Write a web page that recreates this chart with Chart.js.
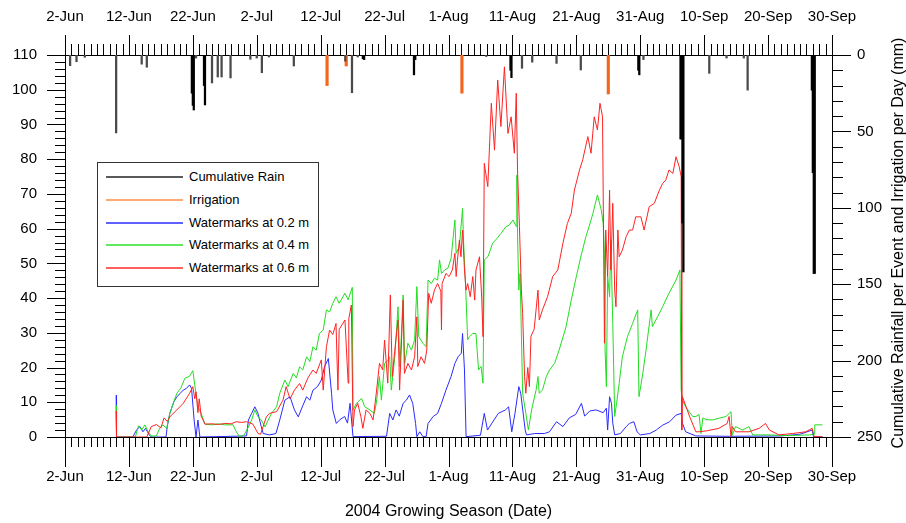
<!DOCTYPE html>
<html><head><meta charset="utf-8">
<script src="https://cdn.jsdelivr.net/npm/chart.js@4.4.1/dist/chart.umd.min.js"></script>
<style>
html,body{margin:0;padding:0;background:#fff;}
#wrap{position:relative;width:906px;height:523px;font-family:"Liberation Sans",Arial,Helvetica,sans-serif;color:#000;}
#c{position:absolute;left:0;top:0;}
#legend{position:absolute;left:97px;top:162px;width:222px;height:125px;border:1px solid #333;background:#fff;box-sizing:border-box;}
#legend .ln{position:absolute;left:8px;width:77px;height:2px;}
#legend .tx{position:absolute;left:91px;font-size:13px;line-height:16px;white-space:nowrap;}
#ytitle2{position:absolute;left:648px;top:233px;width:500px;height:20px;line-height:20px;text-align:center;font-size:16px;transform:rotate(-90deg);transform-origin:50% 50%;white-space:nowrap;}
</style></head>
<body>
<div id="wrap">
<canvas id="c" width="906" height="523"></canvas>
<div id="legend"></div>
<div id="ytitle2"></div>
</div>
<script>
// ---- axis text ----
const dateLabels = ['2-Jun','12-Jun','22-Jun','2-Jul','12-Jul','22-Jul','1-Aug','11-Aug','21-Aug','31-Aug','10-Sep','20-Sep','30-Sep'];
const xTitle = '2004 Growing Season (Date)';
const yRightTitle = 'Cumulative Rainfall per Event and Irrigation per Day (mm)';
const seriesNames = ['Cumulative Rain','Irrigation','Watermarks at 0.2 m','Watermarks at 0.4 m','Watermarks at 0.6 m'];
const leftTicks = {min:0, max:110, step:10, minor:2};
const rightTicks = {min:0, max:250, step:50, minor:10};
const dayRange = {min:0, max:120, step:10, minor:1};

// ---- rain events (day since 2-Jun, mm) ----
const rainDays = [0.8,1.8,3.1,8.0,12.0,12.8,19.85,20.0,20.15,20.5,21.75,21.9,23.0,23.9,24.5,25.9,29.0,30.0,30.8,31.9,35.8,43.85,44.9,45.8,46.6,46.8,54.6,54.8,65.9,69.7,69.85,71.5,73.1,76.9,80.7,89.7,89.85,90.5,96.3,96.45,96.6,96.75,100.8,103.5,106.2,106.8,116.85,117.0,117.15,117.3];
const rainMm   = [7,4.4,1.5,51,6,8,25,33,36,2,20,32.7,18.3,14.4,14.4,15,2.8,2,11.6,1.3,7.2,4,24.7,1.3,2.5,3,13,3,1,10,14.8,8.7,4.7,5.5,9.8,10,13,3,55,55,110,142,12,2,2,23,23,77,143,143];

// ---- irrigation (day, mm) ----
const irrDays = [41.0,44.0,62.1,85.0];
const irrMm   = [20,7.2,25,25.5];

// ---- watermark readings [day, value] ----
const wm02 = [[8.0,12],[8.06,0],[10.6,0],[11.2,2],[11.7,3],[12.2,1.5],[12.6,2.5],[13.2,0.5],[13.6,0],[15.8,0],[16.0,3],[16.4,6.8],[17.0,10],[17.5,11.6],[18.0,12.5],[18.5,13.5],[19.0,14],[19.5,15],[19.8,14],[20.2,4.9],[20.5,0],[20.8,4.9],[21.1,0],[28.4,0.3],[28.7,4.9],[29.2,6.8],[29.7,8.7],[30.2,6.8],[30.7,3],[31.0,1],[32.0,0.6],[33.0,1],[33.6,4.9],[34.4,10.6],[35.2,11.6],[35.9,7.8],[36.5,5.8],[37.2,9],[37.8,11.6],[38.3,10.6],[38.8,13.5],[39.5,14.5],[40.1,16.4],[40.6,20.2],[41.2,22.6],[41.7,12.6],[41.9,7.8],[42.45,3.9],[43.0,5],[43.75,5.9],[44.2,4],[44.6,9.7],[45.06,0.1],[50.3,0.2],[50.8,6.8],[51.3,4.9],[51.8,7.8],[52.3,6],[52.9,9.7],[53.4,10.6],[53.9,12.1],[54.4,9.7],[54.85,3.9],[55.05,0.1],[55.5,1.5],[56.0,0.1],[56.5,0.1],[56.8,3.9],[57.6,5.9],[58.3,6.8],[58.9,9.7],[59.6,13.5],[60.4,17.4],[61.0,21.2],[61.5,23.1],[62.0,24.1],[62.2,29.8],[62.5,19.3],[62.75,0.1],[65.0,0.5],[65.6,6.8],[66.1,2],[66.8,4],[67.8,6.8],[68.9,7.8],[69.4,8.7],[69.9,1.5],[70.4,6.8],[71.0,14.5],[71.3,12.6],[72.0,2],[72.2,0.6],[73.5,1],[75.0,1],[75.8,1.5],[76.9,4.4],[77.9,3],[78.9,5.5],[79.9,6.5],[80.8,9.7],[81.3,6],[82.1,7.5],[83.1,7.8],[84.2,7],[84.7,8.3],[84.9,2],[85.2,11.6],[85.5,9.7],[85.7,4],[86.0,0.6],[86.9,1],[87.8,3],[88.3,3.9],[89.0,4.4],[89.5,1.5],[90.0,0.6],[91.5,1],[92.5,2],[93.5,3.4],[94.6,4.4],[95.6,6.3],[96.4,6.8],[96.6,4],[97.1,1.5],[98.7,0.3],[104,0.2],[112,0.3],[115,0.8],[116.9,2],[117.1,0.1],[118.5,0]];

const wm04 = [[8.0,9],[8.06,0],[11.0,0],[11.5,3.2],[12.0,2],[12.5,3.5],[13.0,1.5],[13.5,0.3],[14.3,0.3],[14.8,2.5],[15.3,3.5],[15.9,2.5],[16.4,6.8],[17.0,10],[17.5,12.6],[18.1,14],[18.75,16.9],[19.5,17.5],[20.0,19.1],[20.3,15],[20.8,8.7],[21.3,6.8],[21.9,3.7],[23,3.5],[24,3.8],[25,3.5],[26.3,3.5],[26.8,1.5],[27.3,0.1],[28.0,0.5],[28.7,2.9],[29.2,4.9],[29.7,7.8],[30.2,5.8],[30.7,4.9],[31.3,2.9],[31.8,4.9],[32.3,6.8],[33.1,8.7],[33.6,12.6],[34.4,16.4],[34.9,14.5],[35.7,18.3],[36.2,17],[36.7,20.2],[37.2,19.3],[37.8,23.1],[38.3,21.7],[38.8,26],[39.3,25],[39.8,29.8],[40.4,30.8],[40.9,36.6],[41.4,36],[41.9,38.5],[42.4,40.4],[42.9,38.5],[43.8,41.4],[44.3,39.5],[44.95,43.1],[45.06,7.8],[45.6,9.7],[46.4,11.1],[46.9,8.7],[47.7,7.8],[48.4,6.8],[48.7,9.7],[49.2,17.4],[49.5,10.6],[50.0,21.2],[50.5,22],[50.8,23.1],[51.05,13.5],[51.6,23.1],[52.1,37.5],[52.4,20.2],[52.9,40.9],[53.15,21.2],[53.65,27],[54.2,25],[54.7,28],[55.05,43.3],[55.35,28.9],[56.0,27],[56.5,26],[56.8,45.2],[57.3,44.2],[57.8,45.7],[58.3,45.2],[58.6,51],[58.9,47.1],[59.4,48.1],[59.9,48.6],[60.4,51.4],[61.0,62.5],[61.2,52.9],[61.7,54.8],[62.2,65.8],[62.35,56.7],[62.7,42.3],[63.0,28],[63.3,28.9],[63.8,29.8],[64.3,29.8],[64.7,19.3],[65.1,20.3],[65.4,15.5],[65.6,51],[66.2,52],[66.9,55.8],[67.5,57],[68.2,58.6],[69.0,60.6],[69.5,61],[70.1,62.5],[70.6,60.6],[70.7,75.4],[70.8,58.6],[71.0,42.3],[71.2,47.1],[71.6,12.6],[72.1,6.8],[72.5,2],[73.0,7.8],[73.7,13.5],[74.0,17.4],[74.2,12.6],[74.7,13.5],[75.3,17.4],[75.8,19.3],[76.6,21.2],[77.3,25],[78.4,31.8],[79.2,39.4],[80.0,46.2],[80.7,51.9],[81.5,57.7],[82.0,60.6],[82.6,64.4],[83.3,69.7],[83.9,65.4],[84.2,61.5],[84.4,52.9],[84.5,25],[84.7,14.5],[84.9,46.2],[85.2,40.4],[85.4,56.7],[85.7,32.7],[86.0,5.9],[86.3,9.7],[86.7,15.4],[87.2,23.1],[88.0,28.9],[88.8,32.7],[89.6,36.6],[89.8,11.6],[90.4,18.3],[90.9,25],[91.7,36.6],[91.9,31.8],[92.7,34.6],[93.5,37.5],[94.5,41.4],[95.6,45.2],[96.2,48.1],[96.4,13.5],[96.6,10.6],[97.1,8.7],[98.2,5.9],[98.7,5.9],[99.2,6.5],[99.5,1],[99.8,5.5],[100.3,5],[101.3,4.9],[102.3,5.4],[103.4,5.9],[104.2,7.3],[104.4,0.5],[104.9,3],[106,2],[107,3],[107.6,0.6],[110,0.6],[113,0.4],[116.5,0.6],[117.2,0.8],[117.3,3.5],[118.5,3.5]];

const wm06 = [[8.0,7.4],[8.06,0],[12.8,0],[13.5,3],[14.3,3.6],[15.0,2.6],[15.5,5.5],[16.0,4.5],[16.4,5.8],[17.5,7.8],[18.5,9.7],[19.5,12.6],[20.0,14.5],[20.3,11],[20.5,13],[20.8,7],[21.0,11],[21.3,6],[21.6,4.9],[21.9,3.7],[23,3.8],[24,3.6],[25,3.9],[26,3.8],[26.8,4.4],[27.6,4.2],[28.4,4.4],[29.4,3.7],[30.2,1],[30.6,0.8],[31.5,5.8],[32.0,6.8],[33.1,7.3],[34.1,10.6],[34.6,14.5],[35.2,11],[35.9,13.5],[36.7,15.4],[37.2,13.5],[38.0,17],[38.8,19.3],[39.3,18.3],[40.1,22.2],[40.4,13.5],[40.9,26],[41.4,30.8],[41.9,29.5],[42.4,32.7],[42.7,13.5],[42.9,31],[43.8,33.7],[44.3,15.5],[44.4,34],[44.8,38],[45.06,3],[45.3,7.8],[45.8,9.7],[46.3,5.8],[46.6,2.5],[47.1,7.8],[47.7,6.8],[48.2,4.9],[48.7,12.6],[49.2,21.2],[49.7,19.3],[50.0,27.9],[50.5,15.5],[50.9,40.9],[51.2,17.4],[51.6,25],[52.1,33.7],[52.35,13.5],[52.9,39.4],[53.1,18.3],[53.65,21.2],[54.2,19.3],[54.7,23.1],[55.05,34.6],[55.2,20.3],[55.7,23.1],[56.25,21.2],[56.6,25],[56.9,41.4],[57.3,38.5],[57.8,42.3],[58.3,44.2],[58.8,42],[58.9,30.8],[59.0,44.2],[59.6,47.1],[60.1,46.2],[60.6,48.1],[61.0,52.9],[61.2,46.2],[61.4,50.9],[61.7,56.7],[61.95,51.9],[62.2,59.6],[62.5,48.1],[62.75,42.3],[63.0,44.2],[63.4,40.4],[63.8,46.2],[64.1,39.4],[64.3,48.1],[64.85,51.9],[65.2,40],[65.4,28.9],[65.6,78.8],[66.15,72.1],[66.7,96.1],[67.2,82.6],[67.7,102.8],[68.2,89.4],[68.75,106.6],[69.3,87.4],[69.8,92.2],[70.3,81.7],[70.6,99],[70.8,76.9],[71.1,60.6],[71.4,42.3],[71.6,35.6],[71.9,17.4],[72.1,12.6],[72.4,20],[72.66,14.5],[72.9,29],[73.4,31],[74.0,42.3],[74.2,33.7],[74.7,36.6],[75.5,40.4],[76.3,46.2],[77.1,48.1],[77.9,55.8],[78.6,61.5],[79.2,64.4],[79.7,71.1],[80.5,76.9],[81.0,79.8],[81.8,86.5],[82.3,81.7],[82.8,92.2],[83.3,88.4],[83.7,96.1],[84.1,92.2],[84.4,27],[84.6,59.6],[84.9,46.2],[85.2,71.1],[85.4,48.1],[85.7,67.3],[86.0,42.3],[86.2,37.5],[86.5,59.6],[86.7,51.9],[87.2,53.8],[87.8,57.7],[88.3,59.6],[88.8,59.6],[89.3,63.4],[90.1,63.4],[90.6,59.6],[91.4,66.3],[92.2,67.3],[93.0,71.1],[93.5,73],[94.0,74],[94.5,76.9],[95.1,75.9],[95.6,80.7],[96.1,77.8],[96.4,75],[96.5,2],[96.6,11.6],[97.7,6],[98.7,1.5],[99.2,1.5],[100.5,1.8],[102.3,2.5],[103.6,3.9],[103.9,5.9],[104.2,0.1],[104.4,3],[104.9,1.5],[107,1.5],[108.6,2.5],[109.6,3.9],[110.2,2],[111.7,0.6],[113.8,1],[115.9,1.5],[116.9,2.5],[117.2,0.1],[118.5,0.1]];

// ---- styles ----
const colors = {rain:'#000000', rainThin:'#4a4a4a', irr:'#f4661b', b:'#2a2aff', g:'#22dd22', r:'#ff2222'};
const legendColors = ['#5a5a5a','#ffa878','#6060ff','#60e860','#ff6060'];

const pts = arr => arr.map(p => ({x:p[0], y:p[1]}));
const bars = (d, v) => d.map((x,i) => ({x:x, y:v[i]}));
const rainColor = c => {
  const i = c.dataIndex, d = rainDays[i];
  const clustered = rainDays.some((o,j) => j !== i && Math.abs(o - d) < 0.2);
  return clustered ? colors.rain : colors.rainThin;
};

Chart.defaults.font.family = '"Liberation Sans", Arial, Helvetica, sans-serif';
Chart.defaults.font.size = 15;
Chart.defaults.color = '#000';

const tickMarks = {
  id:'tickMarks',
  afterDraw(chart){
    const {ctx, chartArea:a, scales} = chart;
    ctx.save();
    ctx.strokeStyle = '#000'; ctx.lineWidth = 1;
    ctx.beginPath();
    for (let d = dayRange.min; d <= dayRange.max; d += dayRange.minor){
      const major = d % dayRange.step === 0;
      const px = Math.round(scales.x.getPixelForValue(d)) + 0.5;
      ctx.moveTo(px, a.bottom); ctx.lineTo(px, a.bottom + (major ? 30 : 10));
      const pt = Math.round(scales.x2.getPixelForValue(d)) + 0.5;
      ctx.moveTo(pt, a.top); ctx.lineTo(pt, a.top - (major ? 20 : 11));
    }
    for (let v = leftTicks.min; v <= leftTicks.max; v += leftTicks.minor){
      const py = Math.round(scales.y.getPixelForValue(v)) + 0.5;
      const major = v % leftTicks.step === 0;
      ctx.moveTo(a.left, py); ctx.lineTo(a.left - (major ? 18 : 10), py);
    }
    for (let v = rightTicks.min; v <= rightTicks.max; v += rightTicks.minor){
      const py = Math.round(scales.y2.getPixelForValue(v)) + 0.5;
      const major = v % rightTicks.step === 0;
      ctx.moveTo(a.right, py); ctx.lineTo(a.right + (major ? 19 : 11), py);
    }
    ctx.stroke();
    ctx.restore();
  }
};

const noGrid = {display:false, drawTicks:false, offset:false};
const border = {display:true, color:'#000', width:1};

new Chart(document.getElementById('c'), {
  data:{
    datasets:[
      {type:'bar', label:seriesNames[0], data:bars(rainDays, rainMm), xAxisID:'x', yAxisID:'y2', backgroundColor:rainColor, barThickness:1.6, grouped:false},
      {type:'bar', label:seriesNames[1], data:bars(irrDays, irrMm), xAxisID:'x', yAxisID:'y2', backgroundColor:colors.irr, barThickness:2.5, grouped:false},
      {type:'line', label:seriesNames[4], data:pts(wm06), xAxisID:'x', yAxisID:'y', borderColor:colors.r, borderWidth:1, pointRadius:0, tension:0, fill:false},
      {type:'line', label:seriesNames[3], data:pts(wm04), xAxisID:'x', yAxisID:'y', borderColor:colors.g, borderWidth:1, pointRadius:0, tension:0, fill:false},
      {type:'line', label:seriesNames[2], data:pts(wm02), xAxisID:'x', yAxisID:'y', borderColor:colors.b, borderWidth:1, pointRadius:0, tension:0, fill:false}
    ]
  },
  options:{
    responsive:false, animation:false, devicePixelRatio:1,
    layout:{padding:0},
    plugins:{legend:{display:false}, tooltip:{enabled:false}},
    scales:{
      x:{type:'linear', position:'bottom', offset:false, min:dayRange.min, max:dayRange.max,
        afterFit:s=>{s.height=86;}, grid:noGrid, border:border,
        ticks:{stepSize:dayRange.step, autoSkip:false, maxRotation:0, padding:31, callback:v=>dateLabels[Math.round(v/dayRange.step)]},
        title:{display:true, text:xTitle, font:{size:16}, padding:{top:0,bottom:2}}},
      x2:{type:'linear', position:'top', offset:false, min:dayRange.min, max:dayRange.max,
        afterFit:s=>{s.height=55;}, grid:noGrid, border:border,
        ticks:{stepSize:dayRange.step, autoSkip:false, maxRotation:0, padding:29, callback:v=>dateLabels[Math.round(v/dayRange.step)]}},
      y:{type:'linear', position:'left', min:leftTicks.min, max:leftTicks.max,
        afterFit:s=>{s.width=65;}, grid:noGrid, border:border,
        ticks:{stepSize:leftTicks.step, padding:28}},
      y2:{type:'linear', position:'right', min:rightTicks.min, max:rightTicks.max, reverse:true,
        afterFit:s=>{s.width=74;}, grid:noGrid, border:border,
        ticks:{stepSize:rightTicks.step, padding:25}}
    }
  },
  plugins:[tickMarks]
});

// HTML legend and right-axis title
const lg = document.getElementById('legend');
seriesNames.forEach((n,i)=>{
  const cy = 14 + i*22.8;
  const ln = document.createElement('div'); ln.className='ln'; ln.style.top=(cy-1)+'px'; ln.style.background=legendColors[i];
  const tx = document.createElement('div'); tx.className='tx'; tx.style.top=(cy-8)+'px'; tx.textContent=n;
  lg.appendChild(ln); lg.appendChild(tx);
});
document.getElementById('ytitle2').textContent = yRightTitle;
</script>
</body></html>
